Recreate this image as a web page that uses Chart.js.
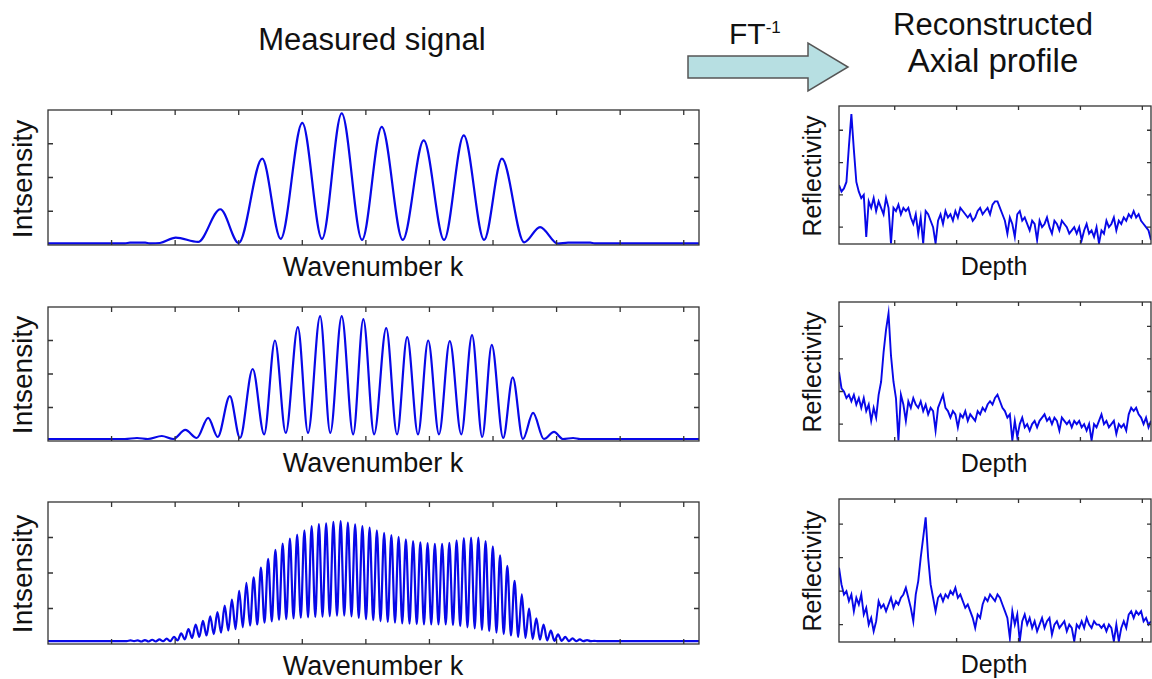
<!DOCTYPE html>
<html>
<head>
<meta charset="UTF-8">
<title>Measured signal / Reconstructed axial profile</title>
<script src="https://cdn.jsdelivr.net/npm/chart.js"></script>
<style>
  body { margin: 0; background: #fff; width: 1152px; height: 679px; position: relative; overflow: hidden;
         font-family: "Liberation Sans", Arial, sans-serif; color: #111; }
  .lbl { position: absolute; white-space: nowrap; line-height: 1; }
  .h { transform: translateX(-50%); }
  .v { transform: translate(-50%, -50%) rotate(-90deg); }
  canvas { position: absolute; }
  sup { font-size: 17px; vertical-align: 11px; }
</style>
</head>
<body>
<div class="lbl h" style="left:372px; top:24px; font-size:31px;">Measured signal</div>
<div class="lbl h" style="left:993px; top:9px; font-size:31px;">Reconstructed</div>
<div class="lbl h" style="left:993px; top:44px; font-size:33px;">Axial profile</div>
<div class="lbl" style="left:729px; top:19px; font-size:30px;">FT<sup>-1</sup></div>
<svg style="position:absolute; left:0; top:0;" width="1152" height="100">
  <polygon points="688,56 808,56 808,43 848,67 808,91 808,78 688,78" fill="#b7dfe2" stroke="#555" stroke-width="1.5"/>
</svg>

<canvas id="sig1" width="657" height="141" style="left:45px; top:107px;"></canvas>
<canvas id="sig2" width="657" height="140" style="left:45px; top:304px;"></canvas>
<canvas id="sig3" width="657" height="148" style="left:45px; top:499px;"></canvas>
<canvas id="refl1" width="318" height="144" style="left:836px; top:103px;"></canvas>
<canvas id="refl2" width="318" height="145" style="left:836px; top:299px;"></canvas>
<canvas id="refl3" width="318" height="149" style="left:836px; top:496px;"></canvas>

<div class="lbl h" style="left:373px; top:254px; font-size:27px;">Wavenumber k</div>
<div class="lbl h" style="left:373px; top:450px; font-size:27px;">Wavenumber k</div>
<div class="lbl h" style="left:373px; top:653px; font-size:27px;">Wavenumber k</div>
<div class="lbl v" style="left:23px; top:179px; font-size:28px;">Intsensity</div>
<div class="lbl v" style="left:23px; top:375px; font-size:28px;">Intsensity</div>
<div class="lbl v" style="left:23px; top:574px; font-size:28px;">Intsensity</div>
<div class="lbl h" style="left:994px; top:254px; font-size:25px;">Depth</div>
<div class="lbl h" style="left:994px; top:451px; font-size:25px;">Depth</div>
<div class="lbl h" style="left:994px; top:652px; font-size:25px;">Depth</div>
<div class="lbl v" style="left:812px; top:176px; font-size:25px;">Reflectivity</div>
<div class="lbl v" style="left:812px; top:372px; font-size:25px;">Reflectivity</div>
<div class="lbl v" style="left:812px; top:571px; font-size:25px;">Reflectivity</div>

<script>
// measured spectra: wavenumber k (0..1024) and intensity
var sig1K = [0, 121, 129, 153, 160, 176, 201, 236, 271, 300, 337, 366, 400, 431, 462, 494, 525, 558,
             591, 623, 654, 686, 714, 749, 774, 802, 818, 853, 860, 1024];
var sig1I = [0.05, 0.05, 0.07, 0.07, 0.05, 0.06, 0.22, 0.09, 1.06, 0.06, 2.56, 0.18, 3.62, 0.18, 3.9, 0.15, 3.5, 0.15,
             3.1, 0.15, 3.25, 0.15, 2.56, 0.08, 0.53, 0.04, 0.07, 0.07, 0.05, 0.05];

var sig2K = [0, 121, 140, 157, 179, 197, 216, 234, 252, 267, 286, 302, 322, 340, 357, 374, 393, 409, 428, 444,
             462, 480, 496, 513, 532, 549, 565, 582, 598, 615, 632, 650, 667, 683, 698, 716, 731, 747,
             763, 780, 796, 810, 826, 837, 1024];
var sig2I = [0.06, 0.06, 0.09, 0.06, 0.15, 0.06, 0.33, 0.09, 0.69, 0.12, 1.34, 0.09, 2.15, 0.2, 3.0, 0.24, 3.4, 0.24, 3.73, 0.24,
             3.73, 0.2, 3.64, 0.2, 3.37, 0.2, 3.1, 0.2, 3.0, 0.2, 2.98, 0.2, 3.16, 0.12, 2.87, 0.09, 1.9, 0.06,
             0.84, 0.06, 0.27, 0.06, 0.09, 0.06, 0.06];

// third spectrum: dense fringes, troughs and peaks every half period
var sig3Base = 0.08;
var sig3Start = 124;
var sig3Step = 5.7;
var sig3Troughs = [0.08, 0.08, 0.07, 0.07, 0.07, 0.08, 0.08, 0.10, 0.13, 0.17,
                   0.20, 0.24, 0.28, 0.32, 0.38, 0.42, 0.47, 0.52, 0.55, 0.60,
                   0.64, 0.68, 0.70, 0.72, 0.74, 0.75, 0.76, 0.77, 0.78, 0.80,
                   0.80, 0.78, 0.74, 0.70, 0.67, 0.64, 0.62, 0.60, 0.58, 0.57,
                   0.56, 0.55, 0.55, 0.55, 0.55, 0.53, 0.50, 0.47, 0.44, 0.40,
                   0.36, 0.32, 0.28, 0.24, 0.20, 0.17, 0.14, 0.12, 0.10, 0.09,
                   0.09, 0.08, 0.08, 0.08, 0.08, 0.08];
var sig3Peaks = [0.10, 0.10, 0.11, 0.12, 0.13, 0.15, 0.20, 0.30, 0.42, 0.55,
                 0.65, 0.78, 0.90, 1.08, 1.25, 1.50, 1.72, 1.88, 2.15, 2.40,
                 2.65, 2.83, 2.97, 3.08, 3.20, 3.32, 3.38, 3.40, 3.44, 3.46,
                 3.42, 3.37, 3.32, 3.28, 3.20, 3.13, 3.07, 3.02, 2.95, 2.90,
                 2.86, 2.84, 2.82, 2.82, 2.85, 2.92, 2.98, 3.00, 3.00, 2.90,
                 2.75, 2.50, 2.20, 1.78, 1.40, 1.00, 0.72, 0.55, 0.38, 0.27,
                 0.20, 0.16, 0.13, 0.11, 0.09];

var kTicks = [100, 200, 300, 400, 500, 600, 700, 800, 900, 1000];
var intensityTicks = [1, 2, 3];

// reconstructed axial profiles, one value per depth bin
var depthStep = 4;
var refl1 = [2.3, 2.1, 2.2, 2.4, 3.5, 4.5, 3.4, 2.4, 2.1, 1.9,
             2.0, 0.7, 1.8, 1.6, 1.9, 1.5, 1.8, 1.6, 1.4, 1.9,
             1.6, 0.5, 1.6, 1.5, 1.7, 1.4, 1.6, 1.5, 1.6, 1.3,
             1.1, 1.4, 0.8, 1.3, 0.5, 1.5, 1.4, 1.2, 1.0, 0.5,
             1.2, 1.4, 1.1, 1.5, 1.3, 1.4, 1.2, 1.5, 1.3, 1.6,
             1.5, 1.4, 1.3, 1.4, 1.2, 1.3, 1.5, 1.6, 1.4, 1.5,
             1.6, 1.4, 1.7, 1.8, 1.8, 1.6, 1.4, 1.2, 0.8, 1.3,
             1.1, 0.7, 1.4, 1.5, 1.2, 1.3, 1.1, 0.9, 1.2, 1.1,
             0.6, 1.2, 1.0, 1.1, 1.3, 1.0, 0.8, 1.2, 1.1, 0.9,
             1.2, 1.1, 1.0, 0.8, 0.9, 1.0, 0.8, 1.0, 0.6, 0.9,
             1.1, 0.8, 0.9, 0.7, 1.0, 0.5, 0.9, 0.8, 1.2, 1.0,
             1.1, 1.3, 0.9, 1.2, 1.1, 1.3, 1.2, 1.4, 1.3, 1.5,
             1.3, 1.4, 1.2, 1.1, 1.0, 0.9, 0.6];
var refl2 = [2.6, 2.1, 2.0, 1.8, 1.9, 1.7, 1.9, 1.6, 1.8, 1.5,
             1.8, 1.4, 1.6, 1.1, 1.5, 1.2, 1.9, 2.3, 3.2, 3.9,
             4.4, 3.1, 2.3, 1.8, 0.5, 1.9, 1.6, 1.1, 1.7, 1.5,
             1.8, 1.6, 1.5, 1.7, 1.4, 1.6, 1.3, 1.5, 1.4, 0.8,
             1.5, 1.7, 1.9, 1.5, 1.4, 1.2, 1.4, 1.3, 0.9, 1.3,
             1.2, 1.4, 1.1, 1.3, 1.2, 1.1, 1.4, 1.3, 1.5, 1.4,
             1.6, 1.7, 1.6, 1.8, 1.9, 1.7, 1.5, 1.4, 1.2, 1.3,
             0.5, 1.1, 0.6, 1.0, 1.2, 0.9, 1.0, 0.8, 1.0, 1.1,
             0.9, 1.1, 1.2, 1.3, 1.1, 1.2, 1.0, 1.2, 1.1, 0.8,
             1.2, 1.1, 1.0, 1.1, 0.9, 1.1, 1.0, 1.1, 0.9, 1.0,
             0.8, 1.0, 0.5, 1.0, 0.9, 1.1, 1.3, 1.0, 1.1, 0.9,
             1.0, 1.1, 0.7, 1.0, 0.9, 1.0, 0.8, 1.3, 1.5, 1.4,
             1.5, 1.3, 1.2, 1.0, 1.2, 0.9, 1.1];
var refl3 = [2.7, 2.2, 1.9, 2.0, 1.7, 1.9, 1.4, 1.8, 1.6, 1.9,
             1.3, 1.5, 1.0, 1.2, 0.8, 1.1, 1.7, 1.5, 1.6, 1.4,
             1.6, 1.8, 1.5, 1.7, 1.6, 1.8, 1.9, 2.1, 1.8, 1.5,
             1.1, 1.9, 2.3, 3.0, 3.6, 4.2, 3.0, 2.2, 1.8, 1.4,
             1.8, 1.9, 1.7, 1.9, 1.8, 2.0, 1.9, 2.1, 1.8, 1.9,
             1.7, 1.5, 1.6, 1.4, 1.2, 0.9, 1.3, 1.2, 1.6, 1.8,
             1.7, 1.9, 1.8, 1.7, 1.9, 1.8, 1.6, 1.4, 1.2, 0.6,
             1.4, 1.0, 1.3, 0.5, 1.1, 1.3, 1.0, 1.2, 0.9, 1.1,
             0.8, 1.0, 1.2, 0.9, 1.1, 1.2, 0.7, 1.0, 1.1, 0.9,
             1.0, 1.1, 0.8, 1.0, 0.9, 0.5, 1.0, 0.9, 1.1, 0.9,
             1.2, 1.0, 0.9, 1.1, 1.0, 1.0, 0.9, 1.0, 0.8, 1.0,
             0.9, 0.5, 1.0, 0.5, 0.9, 1.1, 0.9, 1.3, 1.4, 1.2,
             1.4, 1.3, 1.4, 1.1, 1.2, 1.0, 1.1];

var depthTicks = [90, 190, 290, 390, 490];
var reflTicks = [1, 2, 3, 4];

// box with inward ticks on all four sides, like the original plots
var boxPlugin = {
    id: 'box',
    afterDraw: function(chart, args, opts) {
        var ctx = chart.ctx, a = chart.chartArea;
        var sx = chart.scales.x, sy = chart.scales.y;
        ctx.save();
        ctx.strokeStyle = '#333';
        ctx.lineWidth = 1.3;
        ctx.strokeRect(a.left, a.top, a.right - a.left, a.bottom - a.top);
        ctx.beginPath();
        opts.xTicks.forEach(function(v) {
            var x = sx.getPixelForValue(v);
            ctx.moveTo(x, a.top); ctx.lineTo(x, a.top + opts.len);
            ctx.moveTo(x, a.bottom); ctx.lineTo(x, a.bottom - opts.len);
        });
        opts.yTicks.forEach(function(v) {
            var y = sy.getPixelForValue(v);
            ctx.moveTo(a.left, y); ctx.lineTo(a.left + opts.len, y);
            ctx.moveTo(a.right, y); ctx.lineTo(a.right - opts.len, y);
        });
        ctx.stroke();
        ctx.restore();
    }
};

function pairs(xs, ys) {
    var out = [];
    for (var i = 0; i < xs.length; i++) out.push({ x: xs[i], y: ys[i] });
    return out;
}

function makeChart(id, data, xMax, yMin, yMax, xTicks, yTicks, tickLen, width, smooth) {
    var ctx = document.getElementById(id).getContext('2d');
    return new Chart(ctx, {
        type: 'line',
        data: {
            datasets: [{
                data: data,
                borderColor: '#0808e8',
                borderWidth: width,
                pointRadius: 0,
                fill: false,
                cubicInterpolationMode: smooth ? 'monotone' : 'default',
                tension: 0
            }]
        },
        options: {
            responsive: false,
            animation: false,
            layout: { padding: 3 },
            plugins: {
                legend: { display: false },
                tooltip: { enabled: false },
                box: { xTicks: xTicks, yTicks: yTicks, len: tickLen }
            },
            scales: {
                x: { type: 'linear', min: 0, max: xMax, display: false },
                y: { type: 'linear', min: yMin, max: yMax, display: false }
            }
        },
        plugins: [boxPlugin]
    });
}

var sig3Data = [{ x: 0, y: sig3Base }];
for (var i = 0; i < sig3Troughs.length; i++) {
    sig3Data.push({ x: sig3Start + 2 * i * sig3Step, y: sig3Troughs[i] });
    if (i < sig3Peaks.length) sig3Data.push({ x: sig3Start + (2 * i + 1) * sig3Step, y: sig3Peaks[i] });
}
sig3Data.push({ x: 1024, y: sig3Base });

function profile(vals) {
    return vals.map(function(v, i) { return { x: i * depthStep, y: v }; });
}

makeChart('sig1', pairs(sig1K, sig1I), 1024, 0, 4, kTicks, intensityTicks, 5, 2.2, true);
makeChart('sig2', pairs(sig2K, sig2I), 1024, 0, 4, kTicks, intensityTicks, 5, 2.2, true);
makeChart('sig3', sig3Data, 1024, 0, 4, kTicks, intensityTicks, 5, 2.2, true);
makeChart('refl1', profile(refl1), 504, 0.48, 4.75, depthTicks, reflTicks, 4, 1.9, false);
makeChart('refl2', profile(refl2), 504, 0.48, 4.75, depthTicks, reflTicks, 4, 1.9, false);
makeChart('refl3', profile(refl3), 504, 0.48, 4.75, depthTicks, reflTicks, 4, 1.9, false);
</script>
</body>
</html>
